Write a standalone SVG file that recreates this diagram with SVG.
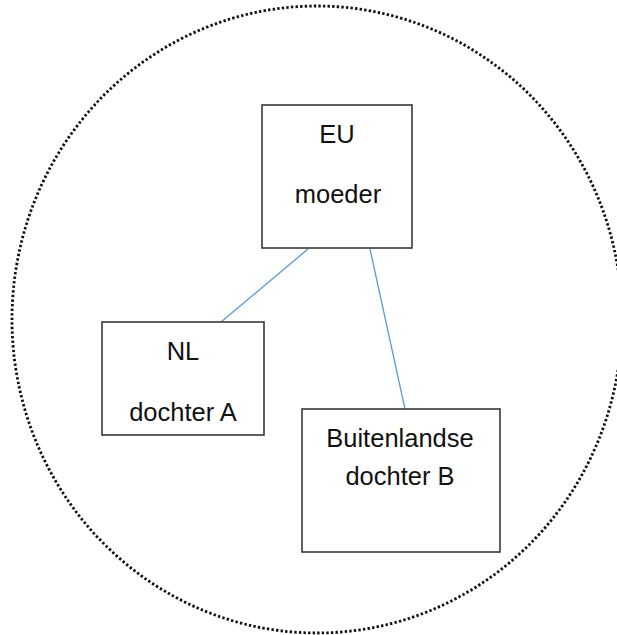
<svg xmlns="http://www.w3.org/2000/svg" width="617" height="635" viewBox="0 0 617 635">
<style>
.box{fill:#fff;stroke:#2b2b2b;stroke-width:1.5}
.lbl{font-family:"Liberation Sans",Arial,sans-serif;font-size:25.5px;fill:#111;text-anchor:middle}
.conn{stroke:#5b9bd5;stroke-width:1.3;fill:none}
</style>
<rect width="617" height="635" fill="#fff"/>
<ellipse id="boundary" cx="317" cy="319.5" rx="305" ry="313.5" fill="none" stroke="#111" stroke-width="2.8" stroke-dasharray="2.4 2.2"/>
<g id="connectors">
<line class="conn" x1="308" y1="249" x2="221" y2="322"/>
<line class="conn" x1="370" y1="249" x2="405" y2="409"/>
</g>
<g id="eu-moeder">
<rect class="box" x="262" y="105" width="150" height="143"/>
<text class="lbl" x="337" y="143">EU</text>
<text class="lbl" x="338" y="203">moeder</text>
</g>
<g id="nl-dochter-a">
<rect class="box" x="102" y="322" width="162" height="113"/>
<text class="lbl" x="183" y="360">NL</text>
<text class="lbl" x="183" y="421">dochter A</text>
</g>
<g id="buitenlandse-dochter-b">
<rect class="box" x="302" y="409" width="198" height="143"/>
<text class="lbl" x="400" y="447">Buitenlandse</text>
<text class="lbl" x="400" y="485">dochter B</text>
</g>
</svg>
